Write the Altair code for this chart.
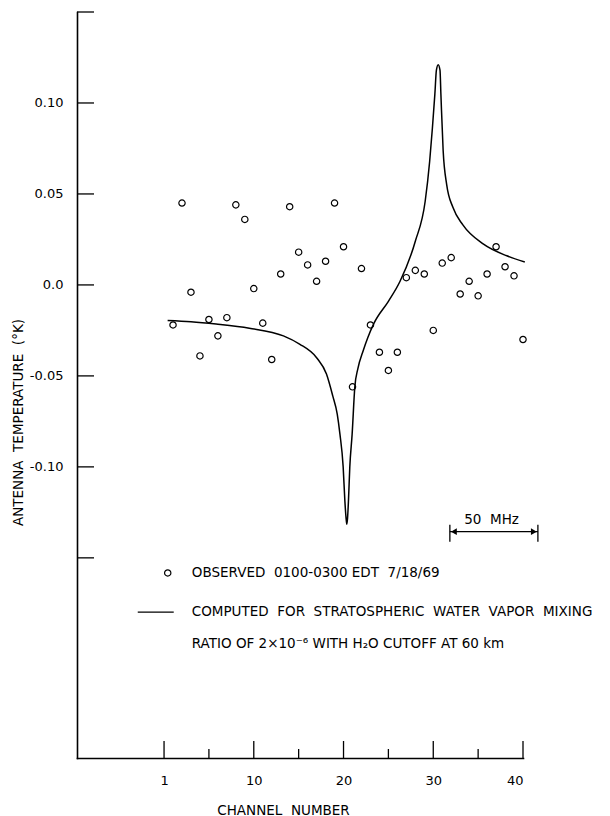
import altair as alt
import pandas as pd

# ---------------- data ----------------
channels = list(range(1, 41))
observed = [-0.022, 0.045, -0.004, -0.039, -0.019, -0.028, -0.018, 0.044, 0.036, -0.002,
            -0.021, -0.041, 0.006, 0.043, 0.018, 0.011, 0.002, 0.013, 0.045, 0.021,
            -0.056, 0.009, -0.022, -0.037, -0.047, -0.037, 0.004, 0.008, 0.006, -0.025,
            0.012, 0.015, -0.005, 0.002, -0.006, 0.006, 0.021, 0.010, 0.005, -0.030]

curve_channel = [0.4, 3.0, 5.8, 9.5, 13.3, 15.1, 17.0, 18.1, 18.8, 19.3, 19.6, 19.96, 20.15,
                 20.3, 20.37, 20.45, 20.55, 20.7, 20.96, 21.26, 21.6, 22.2, 22.7, 23.4, 25.0,
                 26.3, 28.0, 29.1, 29.6, 29.9, 30.18, 30.35, 30.55, 30.75, 30.85, 31.1, 31.5,
                 32.2, 33.3, 35.6, 38.2, 40.2]
curve_value = [-0.0195, -0.0202, -0.0215, -0.0238, -0.028, -0.0325, -0.040, -0.049, -0.061,
               -0.071, -0.082, -0.100, -0.1187, -0.129, -0.1315, -0.128, -0.1187, -0.100,
               -0.082, -0.056, -0.046, -0.036, -0.029, -0.021, -0.009, 0.002, 0.024, 0.046,
               0.068, 0.086, 0.105, 0.118, 0.121, 0.118, 0.105, 0.074, 0.055, 0.0425, 0.033,
               0.0224, 0.016, 0.0126]

x_tick_values = [0, 10, 20, 30, 40]
x_tick_labels = ["1", "10", "20", "30", "40"]
x_minor_ticks = [5, 15, 25, 35]
y_tick_values = [0.10, 0.05, 0.0, -0.05, -0.10]
y_tick_labels = ["0.10", "0.05", "0.0", "-0.05", "-0.10"]
y_all_ticks = [0.15, 0.10, 0.05, 0.0, -0.05, -0.10, -0.15]

x_domain = [-9.7, 40]
y_domain = [-0.26, 0.15]

# legend / annotation anchors (data units)
legend_text = ["OBSERVED  0100-0300 EDT  7/18/69",
               "COMPUTED  FOR  STRATOSPHERIC  WATER  VAPOR  MIXING",
               "RATIO OF 2×10⁻⁶ WITH H₂O CUTOFF AT 60 km"]
legend_text_x = [3.09, 3.09, 3.09]
legend_text_y = [-0.1583, -0.1798, -0.1975]
legend_symbol_x = [0.41]
legend_symbol_y = [-0.1583]
legend_line_x = [-2.93, 1.08]
legend_line_y = [-0.1798]

bar_x = [31.85, 41.66]
bar_y = -0.1356
bar_cap = [-0.1318, -0.1411]
bar_label = "50  MHz"
bar_label_x = 36.5
bar_label_y = -0.1291

x_title = "CHANNEL  NUMBER"
y_title = "ANTENNA  TEMPERATURE  (°K)"

FONT = "DejaVu Sans"
FS = 13.5


def keep_spaces(s):
    # keep the wide word gaps of the original lettering (SVG collapses plain double spaces)
    return s.replace("  ", "\u00a0\u00a0")


def label_expr(values, labels):
    expr = "''"
    for v, l in reversed(list(zip(values, labels))):
        expr = f"abs(datum.value - ({v})) < 1e-6 ? '{l}' : ({expr})"
    return expr


xs = alt.Scale(domain=x_domain, nice=False, zero=False)
ys = alt.Scale(domain=y_domain, nice=False, zero=False)

x_axis = alt.Axis(values=x_tick_values, labelExpr=label_expr(x_tick_values, x_tick_labels),
                  ticks=False, tickSize=0, grid=False, labelPadding=16, labelFontSize=13,
                  labelFont=FONT, labelColor="black", domainColor="black", domainWidth=1.6,
                  title=keep_spaces(x_title), titleFont=FONT, titleFontSize=FS,
                  titleFontWeight="normal", titleColor="black", titleX=206, titleY=52,
                  titleAnchor="middle", titleAlign="center", titleBaseline="middle")
y_axis = alt.Axis(values=y_tick_values, labelExpr=label_expr(y_tick_values, y_tick_labels),
                  ticks=False, tickSize=0, grid=False, labelPadding=14, labelFontSize=13,
                  labelFont=FONT, labelColor="black", domainColor="black", domainWidth=1.6,
                  title=keep_spaces(y_title), titleFont=FONT, titleFontSize=FS,
                  titleFontWeight="normal", titleColor="black", titleX=-59, titleY=410,
                  titleAngle=270, titleAlign="center", titleBaseline="middle")


def X(field="x"):
    return alt.X(f"{field}:Q", scale=xs, axis=x_axis)


def Y(field="y"):
    return alt.Y(f"{field}:Q", scale=ys, axis=y_axis)


obs_df = pd.DataFrame({"x": channels, "y": observed})
curve_df = pd.DataFrame({"x": curve_channel, "y": curve_value})

points = alt.Chart(obs_df).mark_point(shape="circle", filled=False, color="black",
                                      size=40, strokeWidth=1.2, opacity=1).encode(x=X(), y=Y())
line = alt.Chart(curve_df).mark_line(color="black", strokeWidth=1.5,
                                     interpolate="monotone").encode(x=X(), y=Y())

# inward ticks
ytick_df = pd.DataFrame({"y": y_all_ticks})
yticks = alt.Chart(ytick_df).mark_rule(color="black", strokeWidth=1.3).encode(
    y=Y(), x=alt.value(0), x2=alt.value(17))
xmaj_df = pd.DataFrame({"x": x_tick_values})
xmaj = alt.Chart(xmaj_df).mark_rule(color="black", strokeWidth=1.3).encode(
    x=X(), y=alt.value(729), y2=alt.value(746))
xmin_df = pd.DataFrame({"x": x_minor_ticks})
xmin = alt.Chart(xmin_df).mark_rule(color="black", strokeWidth=1.3).encode(
    x=X(), y=alt.value(737), y2=alt.value(746))

# legend
leg_text_df = pd.DataFrame({"x": legend_text_x, "y": legend_text_y,
                            "t": [keep_spaces(t) for t in legend_text]})
leg_text = alt.Chart(leg_text_df).mark_text(align="left", baseline="middle", font=FONT,
                                            fontSize=FS, color="black").encode(
    x=X(), y=Y(), text="t:N")
leg_sym_df = pd.DataFrame({"x": legend_symbol_x, "y": legend_symbol_y})
leg_sym = alt.Chart(leg_sym_df).mark_point(shape="circle", filled=False, color="black",
                                           size=40, strokeWidth=1.2, opacity=1).encode(x=X(), y=Y())
leg_line_df = pd.DataFrame({"x": [legend_line_x[0]], "x2": [legend_line_x[1]], "y": legend_line_y})
leg_line = alt.Chart(leg_line_df).mark_rule(color="black", strokeWidth=1.3).encode(
    x=X(), x2="x2:Q", y=Y())

# 50 MHz scale bar
bar_df = pd.DataFrame({"x": [bar_x[0]], "x2": [bar_x[1]], "y": [bar_y]})
bar = alt.Chart(bar_df).mark_rule(color="black", strokeWidth=1.3).encode(x=X(), x2="x2:Q", y=Y())
cap_df = pd.DataFrame({"x": bar_x, "y": [bar_cap[0]] * 2, "y2": [bar_cap[1]] * 2})
caps = alt.Chart(cap_df).mark_rule(color="black", strokeWidth=1.3).encode(x=X(), y=Y(), y2="y2:Q")
head_df = pd.DataFrame({"x": [bar_x[0] + 0.45, bar_x[1] - 0.45], "y": [bar_y] * 2,
                        "s": ["triangle-left", "triangle-right"]})
heads = alt.Chart(head_df).mark_point(filled=True, color="black", size=45, opacity=1).encode(
    x=X(), y=Y(), shape=alt.Shape("s:N", scale=None, legend=None))
bar_text_df = pd.DataFrame({"x": [bar_label_x], "y": [bar_label_y], "t": [keep_spaces(bar_label)]})
bar_text = alt.Chart(bar_text_df).mark_text(align="center", baseline="middle", font=FONT,
                                            fontSize=FS, color="black").encode(
    x=X(), y=Y(), text="t:N")

chart = alt.layer(line, points, yticks, xmaj, xmin, leg_text, leg_sym, leg_line,
                  bar, caps, heads, bar_text).properties(
    width=446, height=746,
    autosize=alt.AutoSizeParams(type="none"),
    padding={"left": 77, "top": 12, "right": 87, "bottom": 58},
    background="white",
).configure_view(stroke=None).configure_axis(domainCap="square")

chart.save("out.html", embed_options={"renderer": "svg", "actions": False})
